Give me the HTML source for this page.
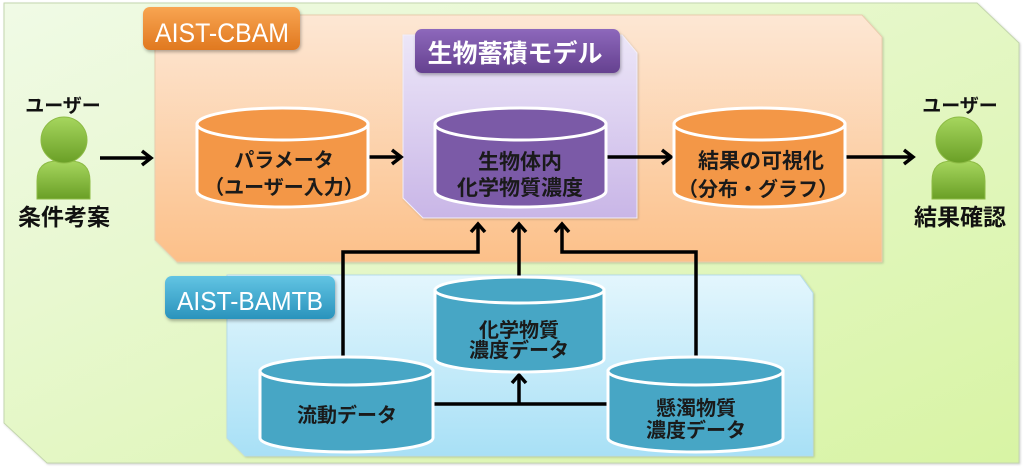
<!DOCTYPE html>
<html><head><meta charset="utf-8">
<style>
html,body{margin:0;padding:0;background:#fff;}
svg{display:block;}
.j{font-family:"Liberation Sans","Noto Sans CJK JP",sans-serif;font-weight:bold;}
</style></head>
<body>
<svg width="1024" height="469" viewBox="0 0 1024 469" xmlns="http://www.w3.org/2000/svg">
<defs>
<linearGradient id="gG" x1="0" y1="0" x2="1" y2="1">
<stop offset="0" stop-color="#f0fae6"/><stop offset="1" stop-color="#d8f4a4"/></linearGradient>
<linearGradient id="gO" x1="0" y1="0" x2="0" y2="1">
<stop offset="0" stop-color="#fde7d4"/><stop offset="1" stop-color="#fcc089"/></linearGradient>
<linearGradient id="gP" x1="0" y1="0" x2="0" y2="1">
<stop offset="0" stop-color="#ece6f8"/><stop offset="1" stop-color="#c9b6e7"/></linearGradient>
<linearGradient id="gB" x1="0" y1="0" x2="0" y2="1">
<stop offset="0" stop-color="#e3f6fd"/><stop offset="1" stop-color="#a8e0f6"/></linearGradient>
<linearGradient id="lO" x1="0" y1="0" x2="0" y2="1">
<stop offset="0" stop-color="#f8a552"/><stop offset="1" stop-color="#e0781f"/></linearGradient>
<linearGradient id="lP" x1="0" y1="0" x2="0" y2="1">
<stop offset="0" stop-color="#8d68bb"/><stop offset="1" stop-color="#65418f"/></linearGradient>
<linearGradient id="lB" x1="0" y1="0" x2="0" y2="1">
<stop offset="0" stop-color="#62c4e3"/><stop offset="1" stop-color="#2a93bc"/></linearGradient>
<linearGradient id="pG" x1="0" y1="0" x2="0" y2="1">
<stop offset="0" stop-color="#a6d65e"/><stop offset="1" stop-color="#6a9f26"/></linearGradient>
<filter id="sh" x="-10%" y="-10%" width="130%" height="140%">
<feDropShadow dx="1" dy="2" stdDeviation="1.5" flood-color="#000" flood-opacity="0.3"/></filter>
<filter id="sh2" x="-5%" y="-5%" width="110%" height="110%">
<feDropShadow dx="1" dy="1" stdDeviation="1" flood-color="#000" flood-opacity="0.18"/></filter>
</defs>

<!-- outer green panel -->
<polygon points="4,3 977,3 1019,43 1019,463 47,463 4,423" fill="url(#gG)" stroke="#c4d6ae" stroke-width="1" filter="url(#sh2)"/>
<!-- orange panel -->
<polygon points="155,15 862,15 882,37 882,262 177,262 155,240" fill="url(#gO)" stroke="#e9cdae" stroke-width="1" filter="url(#sh2)"/>
<!-- purple panel -->
<polygon points="403,35 622,35 637,53 637,218 423,218 403,198" fill="url(#gP)" stroke="#f2eefa" stroke-width="1" filter="url(#sh2)"/>
<!-- blue panel -->
<polygon points="227,275 800,275 813,293 813,456 245,456 227,438" fill="url(#gB)" stroke="#b6dcea" stroke-width="1" filter="url(#sh2)"/>

<!-- labels -->
<rect x="143" y="7" width="157" height="43" rx="7" fill="url(#lO)" filter="url(#sh)"/>
<text x="155" y="42" font-family="Liberation Sans, sans-serif" font-size="27" fill="#fff" textLength="134" lengthAdjust="spacingAndGlyphs">AIST-CBAM</text>

<rect x="415" y="29" width="205" height="44" rx="7" fill="url(#lP)" filter="url(#sh)"/>
<text class="j" x="515" y="62" font-size="25" fill="#fff" text-anchor="middle">生物蓄積モデル</text>

<rect x="165" y="276" width="170" height="43" rx="7" fill="url(#lB)" filter="url(#sh)"/>
<text x="177" y="310" font-family="Liberation Sans, sans-serif" font-size="26" fill="#fff" textLength="146" lengthAdjust="spacingAndGlyphs">AIST-BAMTB</text>

<!-- connectors -->
<g stroke="#000" stroke-width="3.5" fill="none" stroke-linejoin="miter">
<line x1="100" y1="158" x2="151" y2="158"/>
<polyline points="142,151 151,158 142,165"/>
<line x1="368" y1="157" x2="401" y2="157"/>
<polyline points="392,150 401,157 392,164"/>
<line x1="607" y1="157" x2="671" y2="157"/>
<polyline points="662,150 671,157 662,164"/>
<line x1="846" y1="157" x2="913" y2="157"/>
<polyline points="904,150 913,157 904,164"/>

<polyline points="343,357 343,252 478,252 478,224"/>
<polyline points="471,232 478,224 485,232"/>
<line x1="519" y1="277" x2="519" y2="224"/>
<polyline points="512,232 519,224 526,232"/>
<polyline points="696,357 696,252 562,252 562,224"/>
<polyline points="555,232 562,224 569,232"/>

<line x1="433" y1="404" x2="608" y2="404"/>
<line x1="519" y1="404" x2="519" y2="375"/>
<polyline points="512,383 519,375 526,383"/>
</g>

<!-- cylinders -->
<g stroke="#fff" stroke-width="3">
<!-- param -->
<path d="M197,124 V191 A85.5,16 0 0 0 368,191 V124 Z" fill="#f39747"/>
<ellipse cx="282.5" cy="124" rx="85.5" ry="16" fill="#f39747"/>
<!-- purple -->
<path d="M435,124 V191 A85.5,16 0 0 0 606,191 V124 Z" fill="#7b5aa7"/>
<ellipse cx="520.5" cy="124" rx="85.5" ry="16" fill="#7b5aa7"/>
<!-- result -->
<path d="M674,124 V191 A85.5,16 0 0 0 845,191 V124 Z" fill="#f39747"/>
<ellipse cx="759.5" cy="124" rx="85.5" ry="16" fill="#f39747"/>
<!-- chem -->
<path d="M435,290 V359 A84.5,13 0 0 0 604,359 V290 Z" fill="#47a6c5"/>
<ellipse cx="519.5" cy="290" rx="84.5" ry="13" fill="#47a6c5"/>
<!-- flow -->
<path d="M260,371 V438 A86.5,14 0 0 0 433,438 V371 Z" fill="#47a6c5"/>
<ellipse cx="346.5" cy="371" rx="86.5" ry="14" fill="#47a6c5"/>
<!-- suspended -->
<path d="M608,371 V438 A87.5,14 0 0 0 783,438 V371 Z" fill="#47a6c5"/>
<ellipse cx="695.5" cy="371" rx="87.5" ry="14" fill="#47a6c5"/>
</g>

<!-- cylinder texts -->
<g class="j" fill="#1a1a1a" text-anchor="middle">
<text x="284" y="167" font-size="20">パラメータ</text>
<text x="284" y="194" font-size="20">（ユーザー入力）</text>
<text x="520" y="169" font-size="21">生物体内</text>
<text x="520" y="195" font-size="21">化学物質濃度</text>
<text x="761" y="168" font-size="21">結果の可視化</text>
<text x="758" y="196" font-size="20">（分布・グラフ）</text>
<text x="519" y="337" font-size="20">化学物質</text>
<text x="519" y="357" font-size="20">濃度データ</text>
<text x="347" y="422" font-size="20">流動データ</text>
<text x="696" y="415" font-size="20">懸濁物質</text>
<text x="696" y="437" font-size="20">濃度データ</text>
</g>

<!-- users -->
<g fill="url(#pG)" stroke="#8dbb45" stroke-width="1">
<path d="M37,199 V181 Q37,161 57,161 H70 Q90,161 90,181 V199 Z"/>
<circle cx="64" cy="140" r="23"/>
<path d="M932,199 V181 Q932,161 952,161 H965 Q985,161 985,181 V199 Z"/>
<circle cx="959" cy="140" r="23"/>
</g>
<g class="j" fill="#111" text-anchor="middle">
<text x="63" y="112" font-size="19">ユーザー</text>
<text x="64" y="225" font-size="23">条件考案</text>
<text x="960" y="112" font-size="19">ユーザー</text>
<text x="960" y="225" font-size="23">結果確認</text>
</g>
</svg>
</body></html>
